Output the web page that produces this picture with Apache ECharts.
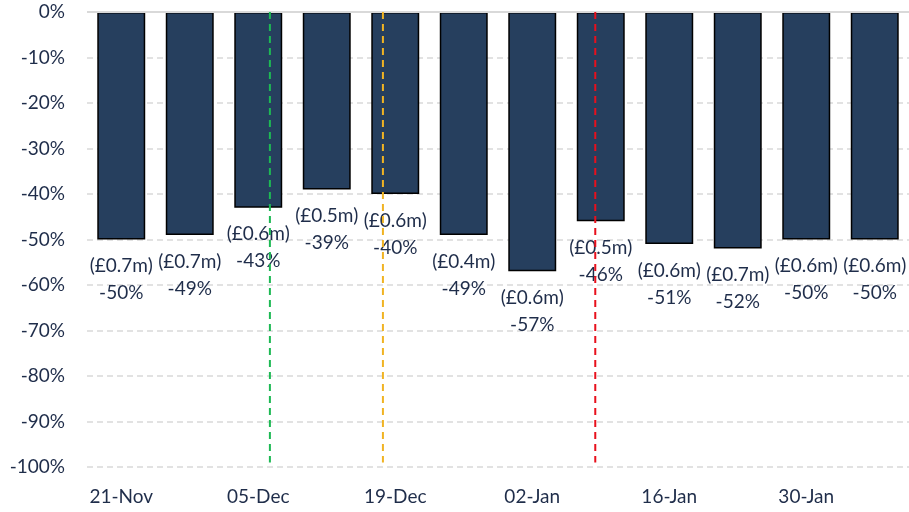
<!DOCTYPE html>
<html><head><meta charset="utf-8">
<script src="https://cdn.jsdelivr.net/npm/echarts@6/dist/echarts.min.js"></script>
<style>html,body{margin:0;padding:0;background:#fff}#c{width:909px;height:512px}</style>
</head><body><div id="c"></div>
<script>
var categories = ['21-Nov','28-Nov','05-Dec','12-Dec','19-Dec','26-Dec','02-Jan','09-Jan','16-Jan','23-Jan','30-Jan','06-Feb'];
var pctValues = [-50, -49, -43, -39, -40, -49, -57, -46, -51, -52, -50, -50];
var amountLabels = ['£0.7m','£0.7m','£0.6m','£0.5m','£0.6m','£0.4m','£0.6m','£0.5m','£0.6m','£0.7m','£0.6m','£0.6m'];
var yTicks = [0,-10,-20,-30,-40,-50,-60,-70,-80,-90,-100];
// event lines: position in category units (0..12), colour
var eventPos = [2.67, 4.32, 7.42];
var eventColors = ['#1db954', '#f0b323', '#e8101c'];
var eventBottom = -99;

var txt = '#1f2d4a';
var font = 'Lato';
var series = [{
  type: 'bar',
  data: pctValues,
  barWidth: '70%',
  itemStyle: { color: '#263f5e', borderColor: '#000', borderWidth: 1.5 },
  label: {
    show: true, position: 'bottom', distance: 13,
    fontFamily: font, fontSize: 19, color: txt, lineHeight: 27,
    formatter: function(p){ return '(' + amountLabels[p.dataIndex] + ')\n' + p.value + '%'; }
  },
  markLine: {
    silent: true, symbol: 'none', label: { show: false },
    lineStyle: { color: '#d9d9d9', type: 'solid', width: 2 },
    data: [{ yAxis: 0 }]
  },
  z: 2
}];
eventPos.forEach(function(x, i){
  series.push({
    type: 'line', xAxisIndex: 1, yAxisIndex: 0,
    data: [[x, 0], [x, eventBottom]],
    symbol: 'none', silent: true,
    lineStyle: { color: eventColors[i], type: [7, 5], width: 2 },
    z: 5
  });
});

var chart = echarts.init(document.getElementById('c'));
chart.setOption({
  animation: false,
  grid: { left: 87, right: 0, top: 12, bottom: 45 },
  xAxis: [{
    type: 'category', data: categories,
    axisLine: { show: false }, axisTick: { show: false },
    axisLabel: { interval: 1, fontFamily: font, fontSize: 19, color: txt, margin: 20 }
  }, {
    type: 'value', min: 0, max: 12, show: false
  }],
  yAxis: {
    type: 'value', min: -100, max: 0, interval: 10,
    axisLine: { show: false }, axisTick: { show: false },
    axisLabel: { fontFamily: font, fontSize: 19, color: txt, margin: 22,
      formatter: function(v){ return v + '%'; } },
    splitLine: { lineStyle: { color: '#d9d9d9', type: [6, 4], width: 1.5 } }
  },
  series: series
});
</script></body></html>
